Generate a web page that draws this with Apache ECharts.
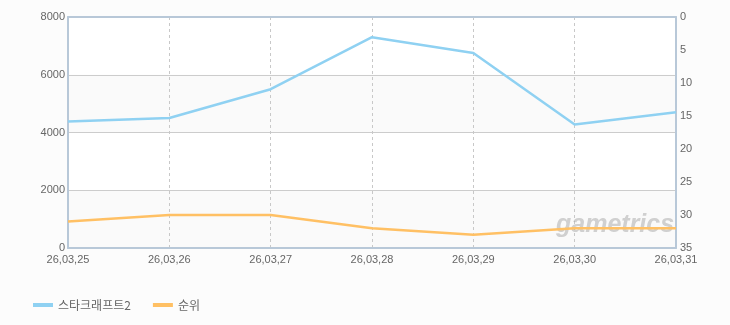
<!DOCTYPE html>
<html><head><meta charset="utf-8">
<script src="https://cdn.jsdelivr.net/npm/echarts@6/dist/echarts.min.js"></script>
<style>html,body{margin:0;padding:0;background:#fcfcfc}#c{width:730px;height:325px}</style>
</head><body><div id="c"></div>
<script>
var categories = ['26,03,25','26,03,26','26,03,27','26,03,28','26,03,29','26,03,30','26,03,31'];
var seriesNames = ['스타크래프트2','순위'];
var users = [4380, 4500, 5500, 7300, 6750, 4280, 4700];
var ranks = [31, 30, 30, 32, 33, 32, 32];
var chart = echarts.init(document.getElementById('c'));
var txt = {color:'#666', fontSize:11, fontFamily:'Liberation Sans, DejaVu Sans, sans-serif'};
var frame = {show:true,onZero:false,lineStyle:{color:'#b8c8d8',width:2}};
chart.setOption({
  backgroundColor:'#fcfcfc',
  animation:false,
  grid:{left:68,right:54,top:17,bottom:77},
  legend:{left:28,top:294,itemWidth:20,itemHeight:4,itemGap:22,icon:'rect',
    textStyle:{color:'#666',fontSize:12,fontFamily:'Noto Sans CJK KR, sans-serif'},
    data:seriesNames},
  xAxis:[{type:'category',data:categories,boundaryGap:false,
    axisLine:frame,axisTick:{show:false},
    axisLabel:Object.assign({margin:6},txt),
    splitLine:{show:true,lineStyle:{color:'#c8c8c8',type:[3,3],width:1}}},
   {type:'category',data:categories,boundaryGap:false,position:'top',
    axisLine:frame,axisTick:{show:false},axisLabel:{show:false},splitLine:{show:false}}],
  yAxis:[{type:'value',min:0,max:8000,interval:2000,
    axisLine:frame,axisTick:{show:false},
    axisLabel:Object.assign({margin:3,formatter:function(v){return String(v);}},txt),
    splitLine:{show:true,lineStyle:{color:'#cccccc',width:1}},
    splitArea:{show:true,areaStyle:{color:['#fafafa','#ffffff']}}},
   {type:'value',min:0,max:35,interval:5,inverse:true,position:'right',
    axisLine:frame,axisTick:{show:false},
    axisLabel:Object.assign({margin:4},txt),
    splitLine:{show:false}}],
  graphic:[{type:'text',left:556,top:213,z:1,
    style:{text:'gametrics',fill:'rgba(165,165,165,0.5)',font:'italic bold 25px Liberation Sans, sans-serif'}}],
  series:[
    {name:seriesNames[0],type:'line',data:users,xAxisIndex:0,yAxisIndex:0,symbol:'none',
     lineStyle:{color:'#8fd1f2',width:2.5},itemStyle:{color:'#8fd1f2'},z:3},
    {name:seriesNames[1],type:'line',data:ranks,xAxisIndex:0,yAxisIndex:1,symbol:'none',
     lineStyle:{color:'#ffc064',width:2.5},itemStyle:{color:'#ffc064'},z:3}
  ]
});
</script></body></html>
